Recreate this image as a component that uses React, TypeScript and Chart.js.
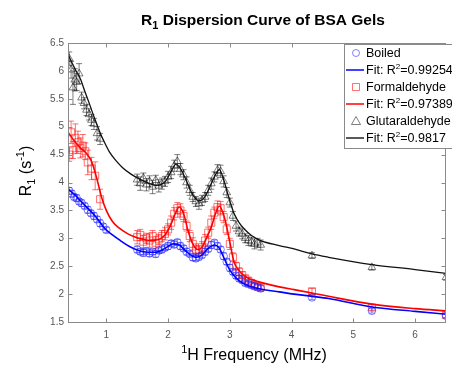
import React, { useEffect, useRef } from 'react';
import { Chart, registerables } from 'chart.js';

Chart.register(...registerables);

// ---------- data ----------
const xTickValues = [1, 2, 3, 4, 5, 6];

const midFreq = [1.50, 1.55, 1.60, 1.65, 1.70, 1.75, 1.80, 1.85, 1.90, 1.95, 2.00, 2.05, 2.10, 2.15, 2.20, 2.25, 2.30, 2.35, 2.40, 2.45, 2.50, 2.55, 2.60, 2.65, 2.70, 2.75, 2.80, 2.85, 2.90, 2.95, 3.00, 3.05, 3.10, 3.15, 3.20, 3.25, 3.30, 3.35, 3.40, 3.45, 3.50];
const highFreq = [4.33, 5.30, 6.50];

// Boiled
const boiledLowFreq = [0.40, 0.44, 0.48, 0.52, 0.56, 0.60, 0.65, 0.70, 0.75, 0.80, 0.85, 0.90, 0.95, 1.00];
const boiledLowR1 = [3.85, 3.80, 3.74, 3.72, 3.66, 3.63, 3.58, 3.51, 3.45, 3.40, 3.34, 3.27, 3.21, 3.15];
const boiledLowErr = [0.06, 0.06, 0.05, 0.06, 0.05, 0.06, 0.05, 0.06, 0.05, 0.06, 0.05, 0.06, 0.05, 0.05];
const boiledMidR1 = [2.80, 2.76, 2.74, 2.77, 2.73, 2.76, 2.72, 2.78, 2.80, 2.83, 2.86, 2.91, 2.89, 2.93, 2.86, 2.82, 2.76, 2.72, 2.66, 2.64, 2.67, 2.70, 2.76, 2.81, 2.88, 2.92, 2.86, 2.80, 2.68, 2.58, 2.47, 2.40, 2.33, 2.28, 2.25, 2.20, 2.18, 2.16, 2.14, 2.12, 2.10];
const boiledMidErr = [0.06, 0.05, 0.06, 0.05, 0.06, 0.05, 0.06, 0.05, 0.06, 0.05, 0.06, 0.05, 0.06, 0.05, 0.06, 0.05, 0.06, 0.05, 0.06, 0.05, 0.06, 0.05, 0.06, 0.05, 0.06, 0.05, 0.06, 0.05, 0.06, 0.05, 0.06, 0.05, 0.05, 0.05, 0.05, 0.05, 0.05, 0.05, 0.05, 0.05, 0.05];
const boiledHighR1 = [1.94, 1.70, 1.61];
const boiledHighErr = [0.04, 0.04, 0.04];

// Formaldehyde
const formLowFreq = [0.40, 0.43, 0.46, 0.50, 0.54, 0.58, 0.62, 0.66, 0.70, 0.76, 0.82, 0.90];
const formLowR1 = [4.50, 4.90, 4.58, 4.80, 4.72, 4.62, 4.66, 4.56, 4.36, 4.25, 4.12, 3.70];
const formLowErr = [0.12, 0.20, 0.15, 0.25, 0.20, 0.18, 0.20, 0.15, 0.22, 0.20, 0.25, 0.18];
const formMidR1 = [3.02, 3.06, 2.94, 3.00, 2.96, 3.04, 2.92, 2.98, 3.04, 3.08, 3.16, 3.28, 3.44, 3.54, 3.50, 3.40, 3.22, 3.04, 2.90, 2.80, 2.78, 2.84, 2.96, 3.10, 3.28, 3.46, 3.56, 3.54, 3.38, 3.16, 2.90, 2.66, 2.50, 2.40, 2.34, 2.28, 2.24, 2.20, 2.16, 2.14, 2.12];
const formMidErr = [0.12, 0.10, 0.11, 0.09, 0.12, 0.10, 0.11, 0.09, 0.10, 0.11, 0.10, 0.12, 0.11, 0.10, 0.12, 0.10, 0.09, 0.10, 0.11, 0.10, 0.09, 0.10, 0.11, 0.10, 0.12, 0.10, 0.11, 0.12, 0.10, 0.09, 0.10, 0.08, 0.07, 0.07, 0.06, 0.06, 0.06, 0.06, 0.05, 0.05, 0.05];
const formHighR1 = [2.05, 1.76, 1.63];
const formHighErr = [0.05, 0.05, 0.05];

// Glutaraldehyde
const glutLowFreq = [0.40, 0.43, 0.46, 0.49, 0.52, 0.56, 0.60, 0.64, 0.68, 0.72, 0.76, 0.80, 0.85, 0.90];
const glutLowR1 = [6.22, 6.02, 5.70, 5.84, 5.80, 5.95, 5.52, 5.42, 5.30, 5.22, 5.12, 5.05, 4.88, 4.78];
const glutLowErr = [0.12, 0.15, 0.30, 0.20, 0.15, 0.18, 0.10, 0.10, 0.10, 0.10, 0.10, 0.10, 0.12, 0.10];
const glutMidR1 = [4.05, 3.98, 4.08, 3.96, 4.02, 3.92, 4.04, 3.94, 3.98, 4.02, 4.10, 4.18, 4.30, 4.38, 4.24, 4.14, 4.00, 3.86, 3.74, 3.66, 3.62, 3.68, 3.74, 3.86, 3.98, 4.10, 4.22, 4.20, 4.02, 3.82, 3.64, 3.40, 3.22, 3.12, 3.08, 3.00, 2.96, 2.94, 2.90, 2.92, 2.88];
const glutMidErr = [0.10, 0.12, 0.09, 0.11, 0.10, 0.12, 0.09, 0.11, 0.10, 0.09, 0.10, 0.11, 0.10, 0.12, 0.10, 0.09, 0.10, 0.09, 0.08, 0.09, 0.10, 0.09, 0.08, 0.09, 0.10, 0.09, 0.10, 0.11, 0.10, 0.09, 0.08, 0.08, 0.09, 0.08, 0.09, 0.08, 0.09, 0.08, 0.09, 0.08, 0.09];
const glutHighR1 = [2.69, 2.48, 2.30];
const glutHighErr = [0.05, 0.05, 0.05];

// Fit curves
const boiledFitFreq = [0.38, 0.5, 0.6, 0.7, 0.82, 0.98, 1.1, 1.2, 1.4, 1.6, 1.8, 1.95, 2.08, 2.18, 2.3, 2.45, 2.55, 2.65, 2.75, 2.82, 2.9, 3.0, 3.1, 3.2, 3.3, 3.5, 3.8, 4.04, 4.33, 4.6, 5.3, 6.0, 6.5];
const boiledFitR1 = [3.88, 3.77, 3.65, 3.54, 3.40, 3.17, 3.06, 2.98, 2.84, 2.76, 2.75, 2.82, 2.90, 2.88, 2.76, 2.66, 2.70, 2.82, 2.88, 2.84, 2.66, 2.43, 2.29, 2.20, 2.15, 2.09, 2.04, 2.00, 1.96, 1.92, 1.77, 1.69, 1.64];
const formFitFreq = [0.38, 0.48, 0.58, 0.68, 0.76, 0.84, 0.92, 1.0, 1.1, 1.2, 1.35, 1.5, 1.7, 1.85, 1.95, 2.05, 2.12, 2.18, 2.25, 2.32, 2.4, 2.48, 2.55, 2.62, 2.7, 2.77, 2.83, 2.9, 2.95, 3.0, 3.07, 3.15, 3.23, 3.35, 3.5, 3.8, 4.04, 4.33, 4.6, 5.3, 6.0, 6.5];
const formFitR1 = [4.90, 4.75, 4.62, 4.52, 4.38, 4.10, 3.75, 3.50, 3.30, 3.19, 3.08, 3.01, 2.96, 2.98, 3.06, 3.26, 3.45, 3.56, 3.45, 3.15, 2.90, 2.80, 2.84, 3.00, 3.20, 3.45, 3.58, 3.42, 3.20, 2.93, 2.57, 2.42, 2.33, 2.26, 2.21, 2.13, 2.08, 2.02, 1.96, 1.82, 1.74, 1.70];
const glutFitFreq = [0.38, 0.45, 0.52, 0.58, 0.65, 0.73, 0.81, 0.89, 0.97, 1.05, 1.15, 1.26, 1.4, 1.54, 1.7, 1.81, 1.9, 1.97, 2.05, 2.13, 2.2, 2.29, 2.4, 2.5, 2.58, 2.66, 2.75, 2.83, 2.9, 2.96, 3.02, 3.07, 3.15, 3.23, 3.35, 3.5, 3.8, 4.04, 4.33, 4.6, 5.3, 6.0, 6.5];
const glutFitR1 = [6.30, 6.13, 5.98, 5.86, 5.64, 5.40, 5.15, 4.92, 4.72, 4.55, 4.40, 4.27, 4.15, 4.06, 3.98, 3.95, 3.97, 4.04, 4.20, 4.33, 4.25, 4.05, 3.78, 3.67, 3.72, 3.88, 4.10, 4.23, 4.05, 3.82, 3.60, 3.44, 3.28, 3.17, 3.05, 2.96, 2.87, 2.81, 2.72, 2.66, 2.53, 2.44, 2.37];

const legendLabels = ['Boiled', 'Fit: R|2|=0.99254', 'Formaldehyde', 'Fit: R|2|=0.97389', 'Glutaraldehyde', 'Fit: R|2|=0.9817'];

// ---------- styles ----------
const FONT = '"Liberation Sans", Arial, Helvetica, sans-serif';
const BLUE_M = 'rgba(30,30,255,0.55)';
const RED_M = 'rgba(255,20,20,0.6)';
const BLACK_M = 'rgba(0,0,0,0.5)';
const FRAME = '#8a8a8a';

const pts = (xs: number[], ys: number[]) => xs.map((x, i) => ({ x, y: ys[i] }));

type Part = { t: string; size: number; dy: number; bold?: boolean };

function drawRich(ctx: CanvasRenderingContext2D, parts: Part[], x: number, y: number, align: 'left' | 'center') {
  const font = (p: Part) => `${p.bold ? 'bold ' : ''}${p.size}px ${FONT}`;
  let total = 0;
  const widths = parts.map((p) => {
    ctx.font = font(p);
    const w = ctx.measureText(p.t).width;
    total += w;
    return w;
  });
  let cx = align === 'center' ? x - total / 2 : x;
  ctx.textAlign = 'left';
  ctx.textBaseline = 'alphabetic';
  parts.forEach((p, i) => {
    ctx.font = font(p);
    ctx.fillText(p.t, cx, y + p.dy);
    cx += widths[i];
  });
}

const errorBarPlugin = {
  id: 'errorBars',
  afterDatasetDraw(chart: any, args: any) {
    const ds = chart.data.datasets[args.index];
    const errs = ds.errors as number[] | undefined;
    if (!errs) return;
    const { ctx, chartArea: a } = chart;
    const ys = chart.scales.y;
    ctx.save();
    ctx.beginPath();
    ctx.rect(a.left, a.top, a.right - a.left, a.bottom - a.top);
    ctx.clip();
    ctx.strokeStyle = ds.borderColor;
    ctx.lineWidth = 1;
    args.meta.data.forEach((pt: any, j: number) => {
      const d = ds.data[j];
      const e = errs[j];
      const yt = ys.getPixelForValue(d.y + e);
      const yb = ys.getPixelForValue(d.y - e);
      ctx.beginPath();
      ctx.moveTo(pt.x, yt);
      ctx.lineTo(pt.x, yb);
      ctx.moveTo(pt.x - 3, yt);
      ctx.lineTo(pt.x + 3, yt);
      ctx.moveTo(pt.x - 3, yb);
      ctx.lineTo(pt.x + 3, yb);
      ctx.stroke();
    });
    ctx.restore();
  },
};

const framePlugin = {
  id: 'frameAndText',
  afterDraw(chart: any) {
    const { ctx, chartArea: a, scales } = chart;
    const xs = scales.x;
    const ys = scales.y;
    ctx.save();
    // frame
    ctx.strokeStyle = FRAME;
    ctx.lineWidth = 1;
    const L = Math.round(a.left) + 0.5;
    const R = Math.round(a.right) - 0.5;
    const T = Math.round(a.top) + 0.5;
    const B = Math.round(a.bottom) + 0.5;
    ctx.strokeRect(L, T, R - L, B - T);
    // inward ticks
    ctx.beginPath();
    xTickValues.forEach((v) => {
      const px = Math.round(xs.getPixelForValue(v)) + 0.5;
      ctx.moveTo(px, B);
      ctx.lineTo(px, B - 4);
      ctx.moveTo(px, T);
      ctx.lineTo(px, T + 4);
    });
    ys.ticks.forEach((t: any) => {
      const py = Math.round(ys.getPixelForValue(t.value)) + 0.5;
      ctx.moveTo(L, py);
      ctx.lineTo(L + 4, py);
      ctx.moveTo(R, py);
      ctx.lineTo(R - 4, py);
    });
    ctx.stroke();

    ctx.fillStyle = '#000';
    // title
    drawRich(
      ctx,
      [
        { t: 'R', size: 15.5, dy: 0, bold: true },
        { t: '1', size: 11, dy: 4, bold: true },
        { t: ' Dispersion Curve of BSA Gels', size: 15.5, dy: 0, bold: true },
      ],
      263,
      25,
      'center'
    );
    // x title
    drawRich(
      ctx,
      [
        { t: '1', size: 11, dy: -7 },
        { t: 'H Frequency (MHz)', size: 16, dy: 0 },
      ],
      254,
      360,
      'center'
    );
    // y title
    ctx.save();
    ctx.translate(31, 171);
    ctx.rotate(-Math.PI / 2);
    drawRich(
      ctx,
      [
        { t: 'R', size: 16, dy: 0 },
        { t: '1', size: 11, dy: 4 },
        { t: ' (s', size: 16, dy: 0 },
        { t: '-1', size: 11, dy: -7 },
        { t: ')', size: 16, dy: 0 },
      ],
      0,
      0,
      'center'
    );
    ctx.restore();

    // legend
    const lx = 344.5;
    const ly = 44.5;
    ctx.fillStyle = '#fff';
    ctx.fillRect(lx, ly, 120, 104);
    ctx.strokeStyle = FRAME;
    ctx.strokeRect(lx, ly, 120, 104);
    const rowY = [53, 70, 87, 104, 121, 138];
    const colors = [BLUE_M, '#0000ff', RED_M, '#ff0000', BLACK_M, '#222'];
    legendLabels.forEach((label, i) => {
      const y = rowY[i];
      const mx = 356;
      ctx.lineWidth = 1;
      ctx.strokeStyle = colors[i];
      ctx.beginPath();
      if (i % 2 === 1) {
        ctx.lineWidth = 1.5;
        ctx.moveTo(346, y);
        ctx.lineTo(364, y);
      } else if (i === 0) {
        ctx.arc(mx, y, 3.5, 0, Math.PI * 2);
      } else if (i === 2) {
        ctx.rect(mx - 3.5, y - 3.5, 7, 7);
      } else {
        ctx.moveTo(mx, y - 4.5);
        ctx.lineTo(mx + 4.5, y + 3.5);
        ctx.lineTo(mx - 4.5, y + 3.5);
        ctx.closePath();
      }
      ctx.stroke();
      ctx.fillStyle = '#000';
      const segs = label.split('|');
      const parts: Part[] =
        segs.length === 1
          ? [{ t: label, size: 12.5, dy: 0 }]
          : [
              { t: segs[0], size: 12.5, dy: 0 },
              { t: segs[1], size: 8, dy: -5 },
              { t: segs[2], size: 12.5, dy: 0 },
            ];
      drawRich(ctx, parts, 366, y + 4, 'left');
    });
    ctx.restore();
  },
};

export default function App() {
  const ref = useRef<HTMLCanvasElement>(null);

  useEffect(() => {
    if (!ref.current) return;
    const markerBase = { showLine: false, borderWidth: 1, backgroundColor: 'rgba(0,0,0,0)', order: 1 };
    const fitBase = { showLine: true, pointRadius: 0, cubicInterpolationMode: 'monotone', order: 0 };
    const chart = new Chart(ref.current, {
      type: 'scatter',
      data: {
        datasets: [
          {
            ...markerBase,
            label: 'Boiled',
            data: [...pts(boiledLowFreq, boiledLowR1), ...pts(midFreq, boiledMidR1), ...pts(highFreq, boiledHighR1)],
            errors: [...boiledLowErr, ...boiledMidErr, ...boiledHighErr],
            pointStyle: 'circle',
            pointRadius: 3.8,
            borderColor: BLUE_M,
          } as any,
          {
            ...fitBase,
            label: 'Boiled fit',
            data: pts(boiledFitFreq, boiledFitR1),
            borderColor: '#0000ff',
            borderWidth: 1.6,
          } as any,
          {
            ...markerBase,
            label: 'Formaldehyde',
            data: [...pts(formLowFreq, formLowR1), ...pts(midFreq, formMidR1), ...pts(highFreq, formHighR1)],
            errors: [...formLowErr, ...formMidErr, ...formHighErr],
            pointStyle: 'rect',
            pointRadius: 5,
            borderColor: RED_M,
          } as any,
          {
            ...fitBase,
            label: 'Formaldehyde fit',
            data: pts(formFitFreq, formFitR1),
            borderColor: '#ff0000',
            borderWidth: 1.6,
          } as any,
          {
            ...markerBase,
            label: 'Glutaraldehyde',
            data: [...pts(glutLowFreq, glutLowR1), ...pts(midFreq, glutMidR1), ...pts(highFreq, glutHighR1)],
            errors: [...glutLowErr, ...glutMidErr, ...glutHighErr],
            pointStyle: 'triangle',
            pointRadius: 4.5,
            borderColor: BLACK_M,
          } as any,
          {
            ...fitBase,
            label: 'Glutaraldehyde fit',
            data: pts(glutFitFreq, glutFitR1),
            borderColor: '#111',
            borderWidth: 1.3,
          } as any,
        ],
      },
      options: {
        responsive: false,
        animation: false,
        events: [],
        layout: { padding: { top: 43, right: 4, left: 0, bottom: 0 } },
        plugins: { legend: { display: false }, tooltip: { enabled: false }, title: { display: false } },
        scales: {
          x: {
            type: 'linear',
            min: 0.38,
            max: 6.5,
            grid: { display: false, drawTicks: false },
            border: { display: false },
            ticks: {
              color: '#555',
              font: { size: 10, family: FONT },
              padding: 7,
              maxRotation: 0,
              callback: (v: any) => String(Math.round(Number(v) * 100) / 100),
            },
            afterBuildTicks: (s: any) => {
              s.ticks = xTickValues.map((v) => ({ value: v }));
            },
            afterFit: (s: any) => {
              s.height = 43;
            },
          },
          y: {
            type: 'linear',
            min: 1.5,
            max: 6.5,
            grid: { display: false, drawTicks: false },
            border: { display: false },
            ticks: {
              stepSize: 0.5,
              color: '#555',
              font: { size: 10, family: FONT },
              padding: 4,
              callback: (v: any) => String(Math.round(Number(v) * 100) / 100),
            },
            afterFit: (s: any) => {
              s.width = 68;
            },
          },
        },
      } as any,
      plugins: [errorBarPlugin, framePlugin],
    });
    return () => chart.destroy();
  }, []);

  return (
    <div style={{ position: 'fixed', left: 0, top: 0, width: 452, height: 365, background: '#fff' }}>
      <canvas ref={ref} width={452} height={365} style={{ width: 452, height: 365, display: 'block' }} />
    </div>
  );
}
